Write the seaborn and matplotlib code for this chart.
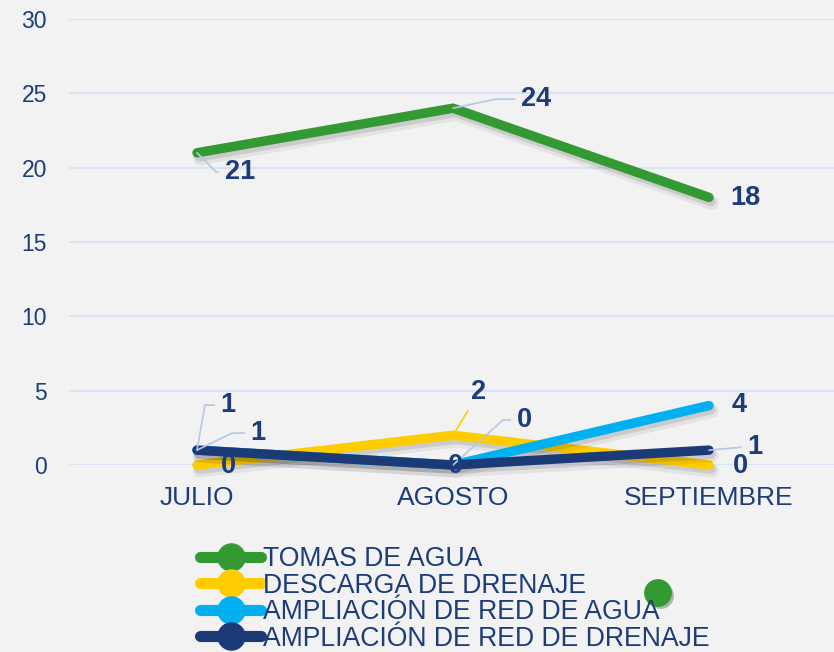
import matplotlib
matplotlib.use("Agg")
import matplotlib.pyplot as plt
import matplotlib.patheffects as pe
from matplotlib.lines import Line2D
import seaborn as sns
import pandas as pd

# ---- data ----
months = ["JULIO", "AGOSTO", "SEPTIEMBRE"]
series_names = ["TOMAS DE AGUA", "DESCARGA DE DRENAJE",
                "AMPLIACIÓN DE RED DE AGUA", "AMPLIACIÓN DE RED DE DRENAJE"]
tomas_agua = [21, 24, 18]
descarga_drenaje = [0, 2, 0]
ampliacion_agua = [1, 0, 4]
ampliacion_drenaje = [1, 0, 1]
y_ticks = [0, 5, 10, 15, 20, 25, 30]

values = [tomas_agua, descarga_drenaje, ampliacion_agua, ampliacion_drenaje]
colors = ["#339933", "#FFCC00", "#00B0F0", "#1B3A78"]
text_color = "#1C3C7A"
grid_color = "#DAE3F3"
leader_color = "#B4C7E7"

rows = []
for name, vals in zip(series_names, values):
    for i, (m, v) in enumerate(zip(months, vals)):
        rows.append({"mes": m, "pos": i, "valor": v, "serie": name})
df = pd.DataFrame(rows)

sns.set_theme(style="white")
plt.rcParams["font.family"] = ["Liberation Sans", "DejaVu Sans"]

fig = plt.figure(figsize=(8.34, 6.52), dpi=100, facecolor="#F2F2F2")
ax = fig.add_axes([69 / 834, 1 - 465 / 652, 768 / 834, 446 / 652])
ax.set_facecolor("#F2F2F2")

sns.lineplot(data=df, x="pos", y="valor", hue="serie", hue_order=series_names,
             palette=colors, linewidth=6.8, ax=ax, legend=False, sort=False)
for ln in ax.lines:
    ln.set_solid_capstyle("round")
    ln.set_solid_joinstyle("round")
    ln.set_clip_on(False)
    ln.set_zorder(3)
    ln.set_path_effects([
        pe.SimpleLineShadow(offset=(2, -4), shadow_color="black", alpha=0.06, linewidth=10),
        pe.SimpleLineShadow(offset=(1.5, -3), shadow_color="black", alpha=0.10),
        pe.Normal()])

ax.set_xlim(-0.5, 2.5)
ax.set_ylim(0, 30)
ax.set_yticks(y_ticks)
ax.set_yticklabels([str(t) for t in y_ticks])
ax.set_xticks(range(len(months)))
ax.set_xticklabels(months)
ax.set_xticks([0.5, 1.5], minor=True)
ax.tick_params(axis="x", which="major", length=0, pad=15, labelsize=19, labelcolor=text_color)
ax.tick_params(axis="x", which="minor", length=4, width=1.2, color=grid_color)
ax.tick_params(axis="y", length=0, pad=16, labelsize=16.5, labelcolor=text_color)
ax.set_xlabel("")
ax.set_ylabel("")
for s in ax.spines.values():
    s.set_visible(False)
ax.grid(axis="y", color=grid_color, linewidth=1.6)
ax.grid(axis="x", visible=False)
ax.set_axisbelow(True)

# ---- data labels (pixel offsets dx, dy-up, leader style) ----
px = 0.72
ang = lambda a: f"angle,angleA=0,angleB={a},rad=0"
label_specs = {
    0: [(43, -19, ang(-45), leader_color), (83, 9, ang(12), leader_color), (36, -1, None, None)],
    1: [(31, -1, None, None), (26, 43, "arc3,rad=0", colors[1]), (31, -1, None, None)],
    2: [(31, 45, ang(80), leader_color), (71, 45, ang(42), leader_color), (30, 1, None, None)],
    3: [(61, 17, ang(26), leader_color), (2, -1, None, None), (46, 3, ang(5), leader_color)],
}
for si, vals in enumerate(values):
    for i, v in enumerate(vals):
        dx, dy, cs, lc = label_specs[si][i]
        kw = {}
        if cs is not None:
            kw["arrowprops"] = dict(arrowstyle="-", color=lc, lw=1.2,
                                    connectionstyle=cs, shrinkA=2, shrinkB=0)
        ax.annotate(str(v), xy=(i, v), xytext=(dx * px, dy * px), textcoords="offset points",
                    ha="center", va="center", fontsize=19.5, fontweight="bold",
                    color=text_color, zorder=5, annotation_clip=False, **kw)

# ---- legend ----
handles = [Line2D([], [], color=c, lw=8, marker="o", markersize=19.5,
                  solid_capstyle="round") for c in colors]
fig.legend(handles, series_names, loc="center left", bbox_to_anchor=(200 / 834, 1 - 599 / 652),
           frameon=False, fontsize=19.2, labelcolor=text_color, handlelength=2.3,
           handletextpad=0.05, labelspacing=0.02, borderpad=0, borderaxespad=0)

# stray marker in the reference
dot = Line2D([658 / 834], [1 - 593 / 652], transform=fig.transFigure, marker="o",
             markersize=19, color=colors[0], linestyle="none",
             path_effects=[pe.SimplePatchShadow(offset=(2, -2), alpha=0.3), pe.Normal()])
fig.add_artist(dot)

fig.savefig("out.png", dpi=100, facecolor=fig.get_facecolor())
